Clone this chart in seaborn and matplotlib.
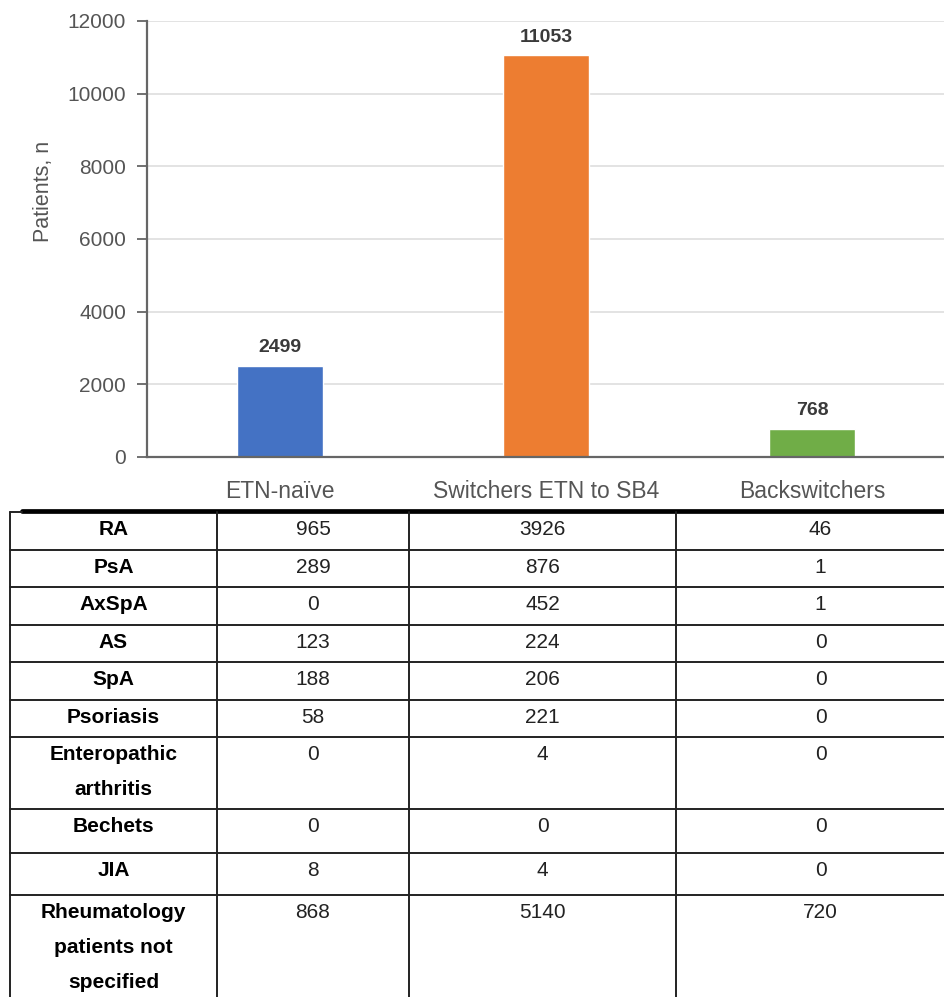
import pandas as pd
import matplotlib.pyplot as plt
import seaborn as sns

groups = ['ETN-naïve', 'Switchers ETN to SB4', 'Backswitchers']
patients = [2499, 11053, 768]
bar_colors = ['#4472C4', '#ED7D31', '#70AD47']

row_labels = ['RA', 'PsA', 'AxSpA', 'AS', 'SpA', 'Psoriasis',
              'Enteropathic\narthritis', 'Bechets', 'JIA',
              'Rheumatology\npatients not\nspecified']
naive = [965, 289, 0, 123, 188, 58, 0, 0, 8, 868]
switchers = [3926, 876, 452, 224, 206, 221, 4, 0, 4, 5140]
backswitchers = [46, 1, 1, 0, 0, 0, 0, 0, 0, 720]

sns.set_style('white')
plt.rcParams['font.family'] = ['Liberation Sans', 'DejaVu Sans']

W, H = 945, 997
fig = plt.figure(figsize=(W / 100, H / 100), dpi=100)

# bar chart
ax = fig.add_axes([147 / W, 1 - 457 / H, (W - 147) / W, (457 - 21) / H])
df = pd.DataFrame({'group': groups, 'n': patients})
sns.barplot(data=df, x='group', y='n', hue='group', palette=bar_colors,
            width=0.32, legend=False, ax=ax, saturation=1)
ax.set_ylim(0, 12000)
ax.set_xlim(-0.5, 2.5)
ax.set_yticks(range(0, 12001, 2000))
ax.yaxis.grid(True, color='#e0e0e0', lw=1.3)
ax.set_axisbelow(True)
for s in ['top', 'right']:
    ax.spines[s].set_visible(False)
ax.spines['left'].set_color('#666666')
ax.spines['left'].set_linewidth(1.6)
ax.spines['bottom'].set_color('#666666')
ax.spines['bottom'].set_linewidth(1.6)
ax.tick_params(axis='y', left=True, length=7, width=1.3, color='#666666',
               labelsize=15, labelcolor='#555555', pad=8)
ax.tick_params(axis='x', bottom=False, labelsize=16.5, labelcolor='#555555', pad=13)
ax.set_xlabel('')
ax.set_ylabel('Patients, n', fontsize=15.5, color='#555555')
ax.yaxis.set_label_coords(-0.117, 0.61)
for i, v in enumerate(patients):
    ax.text(i, v + 270, str(v), ha='center', va='bottom', fontsize=14,
            fontweight='bold', color='#3a3a3a')

# table below
tx = fig.add_axes([0, 0, 1, 1])
tx.set_xlim(0, W)
tx.set_ylim(H, 0)
tx.axis('off')

row_edges = [512, 550, 587, 625, 662, 700, 737, 809, 853, 895, 997]
col_edges = [10, 217, 409, 676, 965]

for y in row_edges[1:-1]:
    tx.plot([10, W], [y, y], color='#222222', lw=1.4)
tx.plot([22, W], [511, 511], color='black', lw=3.4)
tx.plot([10, 22], [512, 512], color='#222222', lw=1.4)
for x in col_edges[:4]:
    tx.plot([x, x], [512, H], color='#222222', lw=1.4)

for r, lab in enumerate(row_labels):
    top = row_edges[r] + 8
    tx.text((col_edges[0] + col_edges[1]) / 2, top, lab, ha='center', va='top',
            fontsize=15, fontweight='bold', color='black', linespacing=2.05)
    for c, vals in enumerate([naive, switchers, backswitchers]):
        xc = (col_edges[c + 1] + col_edges[c + 2]) / 2
        tx.text(xc, top, str(vals[r]), ha='center', va='top',
                fontsize=15, color='#222222')

fig.savefig('out.png', dpi=100)
